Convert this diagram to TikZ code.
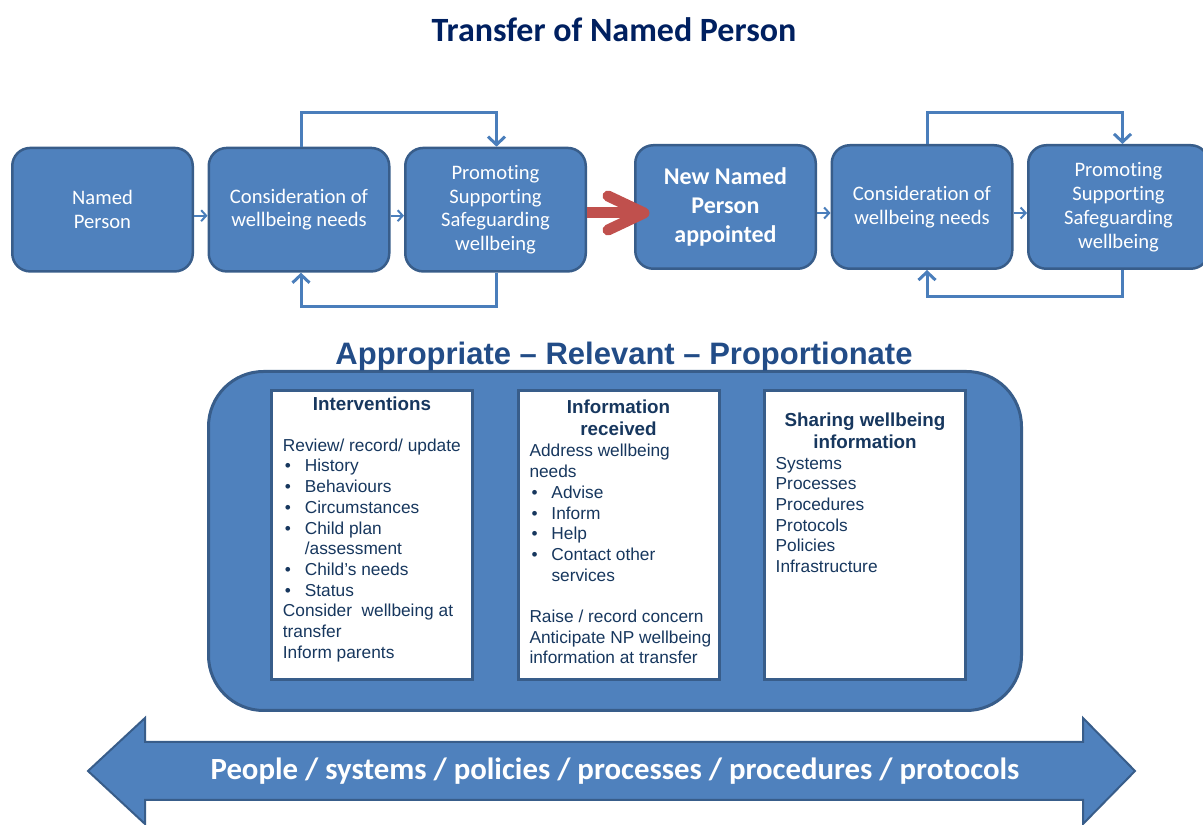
\documentclass[tikz,border=0pt]{standalone}
\usepackage{fontspec}
\setmainfont{Liberation Sans}
\newfontfamily\calibri[Ligatures=NoCommon]{Carlito}
\usetikzlibrary{arrows.meta,positioning}

\definecolor{npblue}{RGB}{79,129,189}
\definecolor{npedge}{RGB}{56,93,138}
\definecolor{linkblue}{RGB}{74,126,187}
\definecolor{npred}{RGB}{192,80,77}
\definecolor{titlenavy}{RGB}{0,32,96}
\definecolor{headblue}{RGB}{34,76,135}
\definecolor{textnavy}{RGB}{23,55,94}

\tikzset{
  stage/.style={draw=npedge, line width=2.5pt, fill=npblue, rounded corners=18pt,
    minimum width=180.5pt, minimum height=123.5pt, inner sep=0pt, text=white,
    align=center, font=\calibri\fontsize{20.6}{23.8}\selectfont},
  loopline/.style={draw=linkblue, line width=3pt, -{Straight Barb[length=8pt,width=17pt]}},
  nextline/.style={draw=linkblue, line width=2pt, -{Straight Barb[length=5pt,width=11pt]}},
  redarrow/.style={draw=npred, line width=11pt},
  listbox/.style={draw=npedge, line width=3pt, fill=white, minimum width=201pt,
    minimum height=289pt, inner sep=0pt},
  listhead/.style={text=textnavy, font=\bfseries\fontsize{18.8}{22.7}\selectfont,
    align=center, inner sep=0pt, anchor=base},
  listbody/.style={text=textnavy, font=\fontsize{17.3}{20.7}\selectfont,
    align=left, inner sep=0pt, anchor=base west},
}
\newcommand{\bitem}[1]{\makebox[22pt][l]{\hspace{2pt}\textbullet}#1}
\newcommand{\bindent}[1]{\hspace*{22pt}#1}

\begin{document}
\begin{tikzpicture}[x=1pt, y=1pt]
  \useasboundingbox (0,0) rectangle (1203,825);

  % Title
  \node[anchor=base, text=titlenavy, font=\calibri\bfseries\fontsize{34}{40}\selectfont]
    (title) at (614,783) {Transfer of Named Person};

  % Stages
  \node[stage] (np) at (102.5,615.3) {Named\\Person};
  \node[stage, right=13.5pt of np] (cons1) {Consideration of\\wellbeing needs};
  \node[stage, right=13.5pt of cons1] (prom1) {Promoting\\Supporting\\Safeguarding\\wellbeing};
  \node[stage, right=47pt of prom1, yshift=2.7pt,
    font=\calibri\bfseries\fontsize{24}{29}\selectfont] (newnp) {New Named\\Person\\appointed};
  \node[stage, right=13.5pt of newnp] (cons2) {Consideration of\\wellbeing needs};
  \node[stage, right=13.5pt of cons2] (prom2) {Promoting\\Supporting\\Safeguarding\\wellbeing};

  \foreach \a/\b in {np/cons1, cons1/prom1, newnp/cons2, cons2/prom2}
    \draw[nextline] ([yshift=-6pt]\a.east) -- ([yshift=-6pt]\b.west);

  % Loops
  \draw[loopline] ([xshift=2pt]cons1.north) -- ++(0,34) -| ([xshift=1pt]prom1.north);
  \draw[loopline] ([xshift=1pt]prom1.south) -- ++(0,-34) -| ([xshift=2pt]cons1.south);
  \draw[loopline] ([xshift=5pt]cons2.north) -- ++(0,31.3) -| ([xshift=4pt]prom2.north);
  \draw[loopline] ([xshift=4pt]prom2.south) -- ++(0,-26.7) -| ([xshift=5pt]cons2.south);

  % Red arrow
  \coordinate (redtip) at ([xshift=10pt,yshift=-6pt]newnp.west);
  \draw[redarrow, line cap=butt] (prom1.east |- redtip) -- (redtip);
  \draw[redarrow, line cap=round, line join=round]
    ([shift={(-36pt,17pt)}]redtip) -- (redtip) -- ([shift={(-36pt,-17pt)}]redtip);

  % Panel
  \node[draw=npedge, line width=3pt, fill=npblue, rounded corners=55pt,
    minimum width=813pt, minimum height=339pt] (panel) at (615,284) {};
  \node[anchor=base, text=headblue, font=\bfseries\fontsize{31}{36}\selectfont]
    (arp) at (624,460) {Appropriate -- Relevant -- Proportionate};

  \node[listbox] (intbox) at (372,289.5) {};
  \node[listbox, right=42.5pt of intbox] (infobox) {};
  \node[listbox, right=42.5pt of infobox] (sharebox) {};

  % headings and lists (base = last line)
  \node[listhead] (inthead) at ([yshift=-21.2pt]intbox.north) {Interventions};
  \node[listhead] (infohead) at ([yshift=-46.5pt]infobox.north) {Information\\received};
  \node[listhead] (sharehead) at ([yshift=-59.5pt]sharebox.north) {Sharing wellbeing\\information};

  \node[listbody] (intlist) at ([shift={(12.7pt,-268.8pt)}]intbox.north west)
    {Review/ record/ update\\
     \bitem{History}\\
     \bitem{Behaviours}\\
     \bitem{Circumstances}\\
     \bitem{Child plan}\\
     \bindent{/assessment}\\
     \bitem{Child’s needs}\\
     \bitem{Status}\\
     Consider\ \ wellbeing at\\
     transfer\\
     Inform parents};
  \node[listbody] (infolist) at ([shift={(12.8pt,-274.5pt)}]infobox.north west)
    {Address wellbeing\\
     needs\\
     \bitem{Advise}\\
     \bitem{Inform}\\
     \bitem{Help}\\
     \bitem{Contact other}\\
     \bindent{services}\\[20.7pt]
     Raise / record concern\\
     Anticipate NP wellbeing\\
     information at transfer};
  \node[listbody] (sharelist) at ([shift={(12.5pt,-183.2pt)}]sharebox.north west)
    {Systems\\
     Processes\\
     Procedures\\
     Protocols\\
     Policies\\
     Infrastructure};

  % Bottom arrow
  \draw[draw=npedge, line width=2pt, fill=npblue]
    (88,54) -- (145,107) -- (145,83) -- (1083,83) -- (1083,107) -- (1135,54)
    -- (1083,1) -- (1083,25) -- (145,25) -- (145,1) -- cycle;
  \node[anchor=base, text=white, font=\calibri\bfseries\fontsize{30.8}{36}\selectfont]
    (ppl) at (615,45) {People / systems / policies / processes / procedures / protocols};
\end{tikzpicture}
\end{document}
